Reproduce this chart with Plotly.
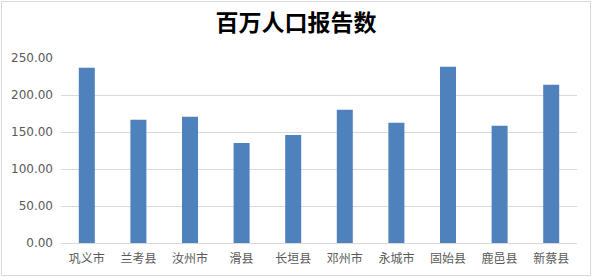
import plotly.graph_objects as go

# 各县市百万人口报告数
counties = ["巩义市", "兰考县", "汝州市", "滑县", "长垣县", "邓州市", "永城市", "固始县", "鹿邑县", "新蔡县"]
reports = [236.8, 166.4, 170.5, 135.3, 146.1, 180.0, 162.4, 238.2, 158.3, 213.8]
y_ticks = [0, 50, 100, 150, 200, 250]
y_tick_text = ["0.00", "50.00", "100.00", "150.00", "200.00", "250.00"]

W, H = 592, 277
ML, MR, MT, MB = 61, 15, 58, 34

fig = go.Figure(
    go.Bar(
        x=counties,
        y=reports,
        marker=dict(color="#4F81BD", line=dict(width=0)),
        width=0.31,
    )
)

# light frame around the whole chart, expressed in paper coordinates
pw, ph = W - ML - MR, H - MT - MB
fig.add_shape(
    type="rect", xref="paper", yref="paper",
    x0=(1.5 - ML) / pw, x1=(W - 1.5 - ML) / pw,
    y0=(1.5 - MB) / ph, y1=(H - 1.5 - MB) / ph,
    line=dict(color="#D9D9D9", width=1),
    fillcolor="rgba(0,0,0,0)",
    layer="above",
)

fig.update_layout(
    width=W, height=H,
    margin=dict(l=ML, r=MR, t=MT, b=MB),
    paper_bgcolor="white",
    plot_bgcolor="white",
    showlegend=False,
    title=dict(
        text="<b>百万人口报告数</b>",
        x=0.5, xref="container", xanchor="center",
        y=1 - 22.5 / H, yanchor="middle",
        font=dict(family="Noto Sans CJK SC", size=23, color="#000000"),
    ),
    xaxis=dict(
        showgrid=False,
        showline=True, linecolor="#D9D9D9", linewidth=1,
        ticks="", ticklabelstandoff=5,
        tickfont=dict(family="Noto Sans CJK SC", size=12, color="#595959"),
        fixedrange=True,
    ),
    yaxis=dict(
        range=[0, 250],
        tickvals=y_ticks, ticktext=y_tick_text,
        showgrid=True, gridcolor="#D9D9D9", gridwidth=1,
        zeroline=False, showline=False,
        ticks="", ticklabelstandoff=7,
        tickfont=dict(family="DejaVu Sans", size=12, color="#595959"),
        fixedrange=True,
    ),
)

fig.write_html("out.html")
